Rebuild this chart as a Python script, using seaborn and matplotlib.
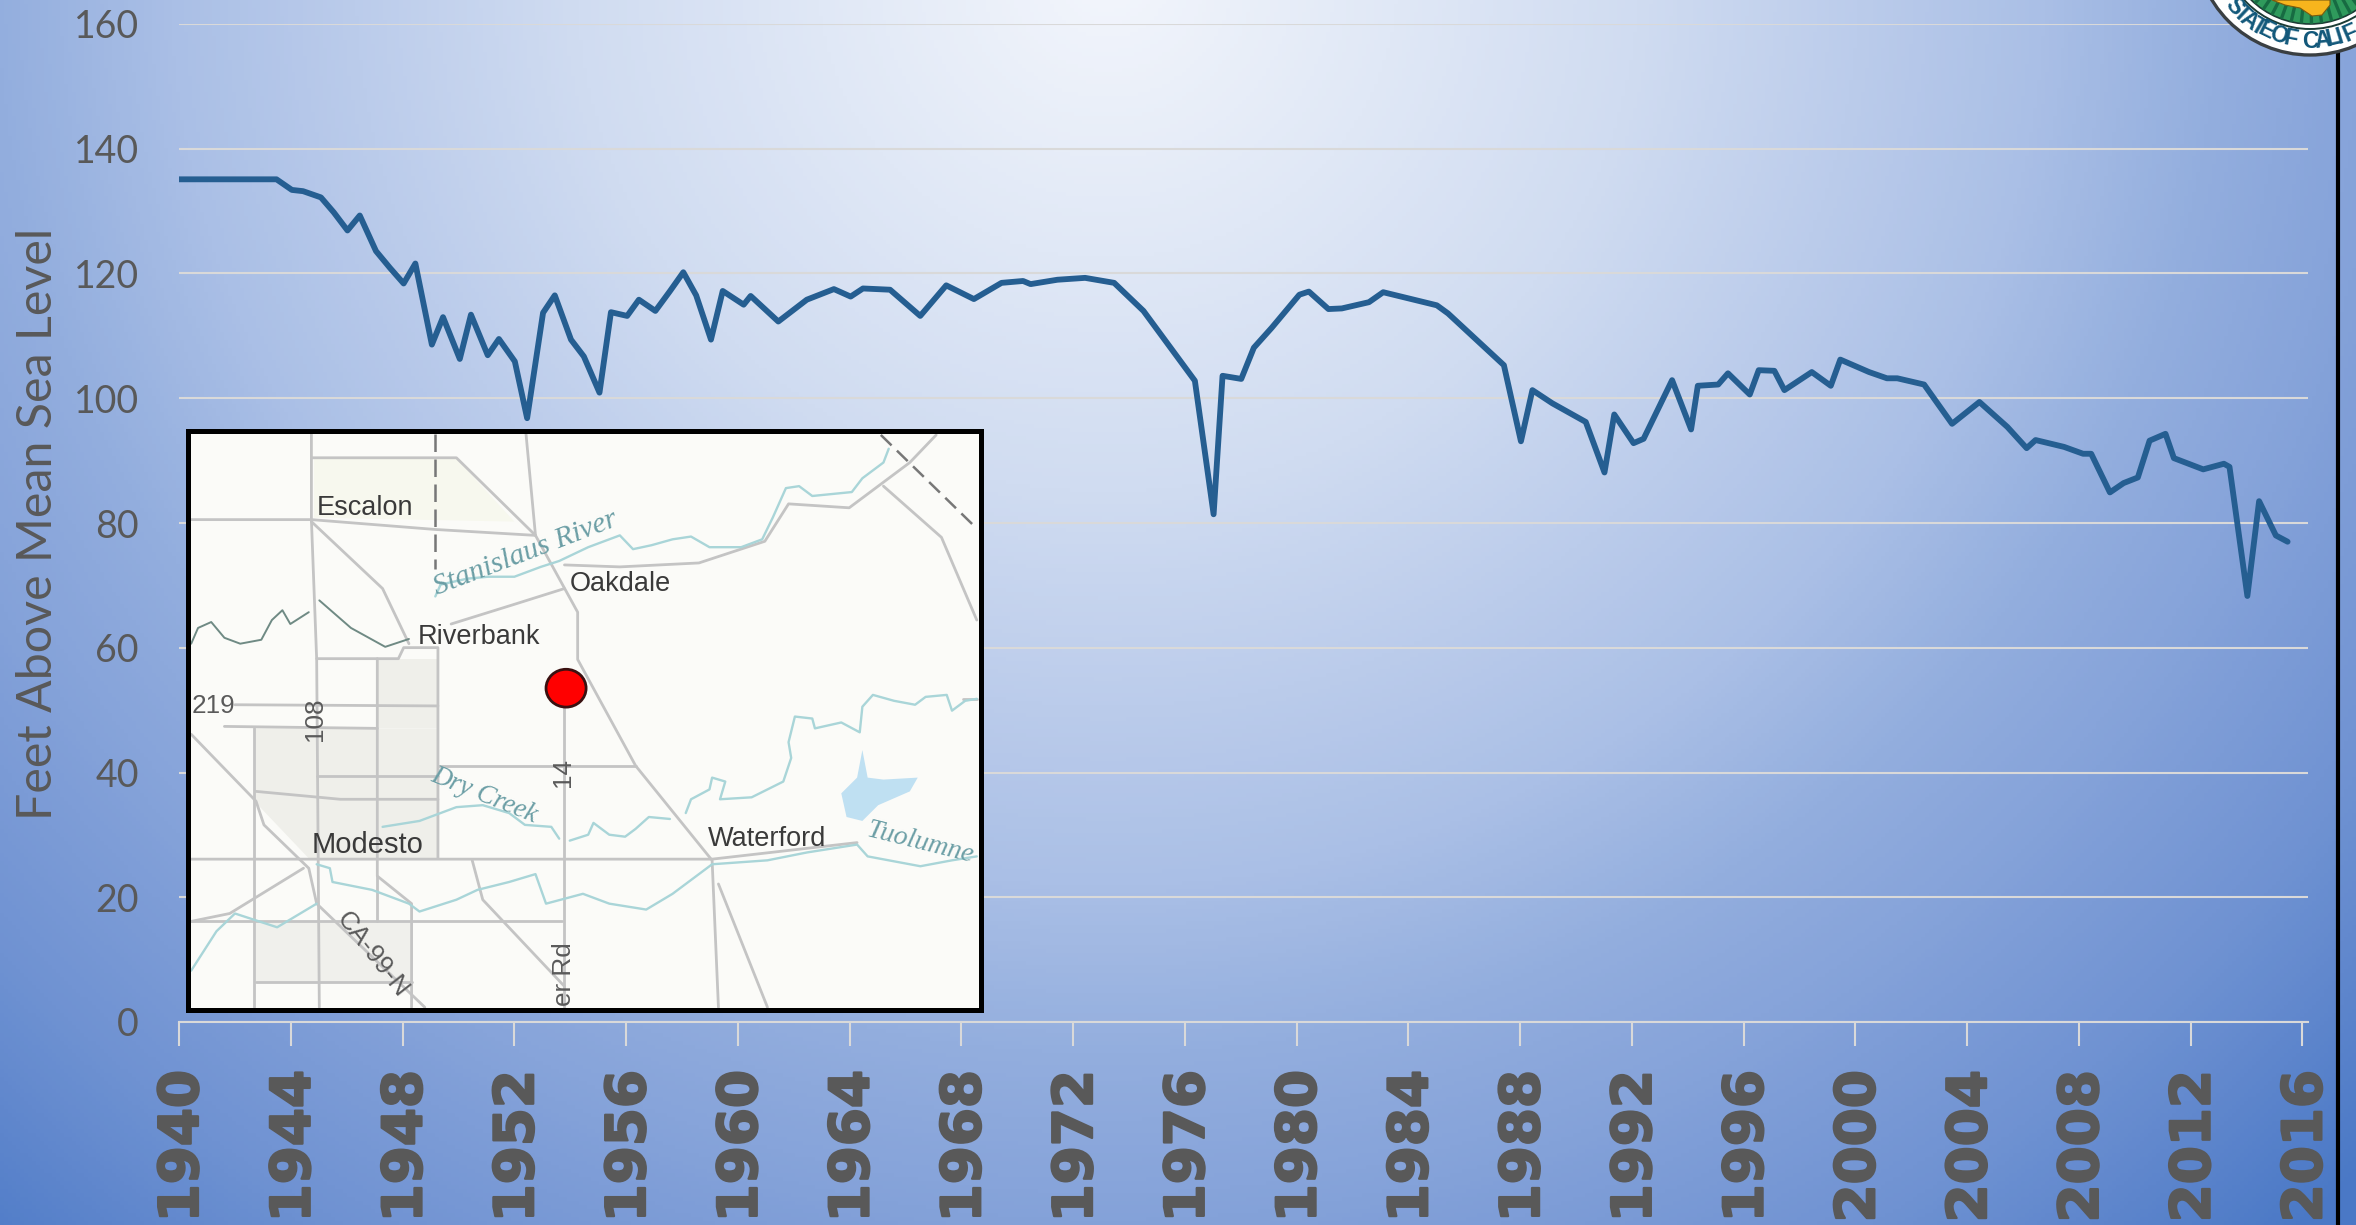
#!/usr/bin/env python3
# groundwater hydrograph, with locator map inset and seal
import numpy as np
import pandas as pd
import matplotlib
matplotlib.use("Agg")
import matplotlib.pyplot as plt
import matplotlib.patheffects as pe
from matplotlib.colors import LinearSegmentedColormap
from matplotlib.patches import Circle, Ellipse, Polygon
from matplotlib.transforms import ScaledTranslation
import seaborn as sns

# 1) Data
years = [1940, 1943.49, 1944.04, 1944.44, 1945.08, 1945.54, 1946.03, 1946.47, 1947.05, 1947.55,
         1948.04, 1948.46, 1949.05, 1949.45, 1950.05, 1950.45, 1951.05, 1951.45, 1952.02, 1952.46,
         1953.03, 1953.45, 1954.03, 1954.49, 1955.05, 1955.46, 1956.04, 1956.46, 1957.05, 1957.56,
         1958.05, 1958.51, 1959.04, 1959.46, 1960.21, 1960.46, 1961.45, 1962.47, 1963.44, 1964.04,
         1964.48, 1965.45, 1966.53, 1967.46, 1968.45, 1969.44, 1970.21, 1970.48, 1971.44, 1972.43,
         1973.47, 1974.52, 1976.36, 1977.03, 1977.35, 1978.02, 1978.47, 1979.11, 1980.1, 1980.44,
         1981.14, 1981.62, 1982.59, 1983.1, 1985.02, 1985.42, 1987.42, 1988.03, 1988.44, 1989.15,
         1990.35, 1991.02, 1991.37, 1992.06, 1992.42, 1993.44, 1994.12, 1994.36, 1995.09, 1995.44,
         1996.22, 1996.54, 1997.1, 1997.46, 1998.44, 1999.12, 1999.46, 2000.49, 2001.13, 2001.5,
         2002.46, 2003.46, 2004.44, 2005.44, 2006.13, 2006.45, 2007.47, 2008.15, 2008.44, 2009.11,
         2009.6, 2010.11, 2010.53, 2011.1, 2011.4, 2012.45, 2013.19, 2013.39, 2014.03, 2014.45,
         2015.05, 2015.47]
levels = [135.1, 135.1, 133.4, 133.2, 132.2, 129.8, 126.9, 129.3, 123.6, 120.9,
          118.4, 121.6, 108.6, 113.0, 106.3, 113.4, 106.9, 109.5, 105.9, 96.8,
          113.7, 116.5, 109.4, 106.7, 100.9, 113.8, 113.2, 115.8, 114.0, 117.1,
          120.2, 116.5, 109.4, 117.2, 115.0, 116.4, 112.3, 115.8, 117.5, 116.3,
          117.6, 117.4, 113.2, 118.1, 115.9, 118.5, 118.8, 118.3, 119.0, 119.3,
          118.5, 114.0, 102.8, 81.4, 103.6, 103.1, 108.1, 111.3, 116.6, 117.1,
          114.3, 114.4, 115.4, 117.0, 114.9, 113.6, 105.3, 93.1, 101.3, 99.2,
          96.2, 88.1, 97.4, 92.8, 93.5, 102.9, 95.0, 102.0, 102.2, 104.0,
          100.6, 104.5, 104.4, 101.3, 104.2, 102.0, 106.2, 104.2, 103.2, 103.2,
          102.2, 95.9, 99.4, 95.4, 92.0, 93.3, 92.2, 91.1, 91.1, 84.9,
          86.4, 87.3, 93.2, 94.3, 90.4, 88.6, 89.5, 89.0, 68.3, 83.5,
          78.0, 77.0]
x_ticks = list(range(1940, 2017, 4))
y_ticks = list(range(0, 161, 20))
y_label = "Feet Above Mean Sea Level"

# Map inset, coordinates are in the inset's own frame
roads = [
    [(37, 275), (265, 275), (500, 300), (690, 315)],
    [(265, 57), (265, 275), (275, 630), (280, 1513)],
    [(265, 118), (540, 118), (690, 315), (770, 510), (770, 630), (880, 900), (1025, 1140), (1037, 1513)],
    [(672, 57), (690, 315)],
    [(265, 280), (400, 450), (450, 590)],
    [(745, 390), (850, 395), (1000, 385), (1125, 330), (1170, 235), (1285, 245), (1400, 130), (1450, 60)],
    [(530, 540), (650, 490), (745, 450)],
    [(275, 628), (430, 628), (440, 600), (505, 600), (505, 1135)],
    [(390, 628), (390, 1180), (455, 1250), (455, 1513)],
    [(120, 745), (505, 748)],
    [(100, 800), (390, 805)],
    [(157, 805), (157, 1513)],
    [(37, 820), (160, 990), (175, 1050), (260, 1160), (275, 1250), (480, 1513)],
    [(160, 965), (320, 985), (505, 985)],
    [(275, 925), (505, 925)],
    [(505, 900), (880, 900)],
    [(37, 1137), (1025, 1137), (1300, 1095)],
    [(37, 1295), (740, 1295)],
    [(745, 750), (745, 1513)],
    [(570, 1140), (590, 1240), (745, 1460)],
    [(390, 1180), (390, 1295)],
    [(250, 1160), (110, 1275), (37, 1295)],
    [(160, 1450), (455, 1450)],
    [(1350, 190), (1460, 320), (1527, 530)],
    [(1037, 1200), (1130, 1513)],
    [(1500, 730), (1527, 730)],
]
rivers = [
    [(500, 470), (510, 440), (560, 425), (600, 420), (650, 420), (700, 395), (735, 380), (790, 345),
     (850, 315), (875, 350), (910, 340), (950, 325), (985, 318), (1020, 345), (1080, 345), (1120, 325),
     (1140, 270), (1165, 195), (1190, 190), (1215, 215), (1290, 205), (1310, 170), (1350, 130), (1360, 95)],
    [(975, 1020), (985, 985), (1020, 960), (1025, 930), (1050, 940), (1040, 985), (1100, 980), (1160, 940),
     (1175, 880), (1170, 840), (1182, 775), (1215, 780), (1220, 805), (1270, 790), (1305, 815), (1310, 750),
     (1330, 720), (1370, 735), (1410, 745), (1430, 725), (1470, 720), (1480, 760), (1505, 735), (1527, 730)],
    [(755, 1090), (790, 1075), (800, 1045), (830, 1075), (860, 1080), (880, 1060), (905, 1030), (945, 1035)],
    [(400, 1055), (470, 1040), (540, 1005), (590, 1000), (640, 1020), (670, 1050), (720, 1055), (735, 1085)],
    [(275, 1150), (300, 1160), (305, 1195), (380, 1215), (450, 1250), (470, 1270), (540, 1240), (580, 1215),
     (640, 1195), (690, 1175), (710, 1250), (780, 1225), (830, 1250), (900, 1265), (950, 1225), (1025, 1150),
     (1130, 1140), (1205, 1120), (1300, 1100), (1320, 1130), (1420, 1155), (1480, 1140), (1527, 1130)],
    [(275, 1250), (200, 1310), (120, 1275), (85, 1320), (37, 1420)],
]
creek = [(37, 590), (50, 550), (75, 535), (100, 575), (130, 590), (170, 580), (190, 530), (210, 505),
         (225, 540), (260, 510)]
creek2 = [(280, 480), (340, 550), (405, 598), (450, 578)]
county_line = [(1345, 60), (1525, 295)]
state_line = [(500, 57), (500, 400)]
lake = [(1310, 860), (1320, 930), (1350, 935), (1415, 930), (1400, 965), (1340, 1000), (1310, 1040),
        (1280, 1030), (1270, 970), (1300, 930)]
map_labels = [
    ("Escalon", 275, 245, 19.5),
    ("Oakdale", 755, 438, 19.5),
    ("Riverbank", 467, 573, 19.5),
    ("Modesto", 265, 1100, 21),
    ("Waterford", 1017, 1087, 19.5),
]
road_labels = [
    ("219", 38, 748, 0),
    ("108", 272, 782, 90),
    ("14", 742, 918, 90),
    ("er Rd", 745, 1430, 90),
    ("CA-99-N", 380, 1380, -52),
]
river_labels = [
    ("Stanislaus River", 672, 360, 21, 21.5),
    ("Dry Creek", 592, 975, -22, 19.5),
    ("Tuolumne", 1420, 1095, -14, 20),
]
seal_letters = ["S", "T", "A", "T", "E", "O", "F", "C", "A", "L", "I", "F"]
seal_angles = [139, 133, 127, 121, 116, 108, 101, 90, 82.6, 77, 73, 66.7]

GRAY = "#595959"
GRID = "#d9d9d9"
W, H = 2356, 1225

sns.set_theme(style="white")
plt.rcParams["font.family"] = ["Lato", "DejaVu Sans"]
fig = plt.figure(figsize=(W / 100, H / 100), dpi=100)

# 2) Background gradient
bg = fig.add_axes([0, 0, 1, 1], zorder=0)
gx, gy = np.meshgrid(np.linspace(0, 1, 590), np.linspace(0, 1, 306))
rad = np.sqrt(((gx - 0.47) / 0.75) ** 2 + ((gy + 0.02) / 1.4) ** 2)
cmap = LinearSegmentedColormap.from_list(
    "bg", [(0, "#f3f6fc"), (0.3, "#d0dcf1"), (0.53, "#aabfe6"), (0.63, "#93aede"),
           (0.71, "#87a4da"), (0.85, "#6f92d2"), (1, "#4a78c6")])
bg.imshow(np.clip(rad, 0, 1), cmap=cmap, vmin=0, vmax=1, extent=(0, W, H, 0), aspect="auto")
bg.set_xlim(0, W)
bg.set_ylim(H, 0)
bg.axis("off")

# 3) Hydrograph
ax = fig.add_axes([179 / W, 1 - 1022 / H, (2308 - 179) / W, (1022 - 24) / H], zorder=1)
ax.patch.set_alpha(0)
df = pd.DataFrame({"year": years, "level": levels})
sns.lineplot(data=df, x="year", y="level", ax=ax, color="#255e91", linewidth=4.2,
             estimator=None, sort=False, zorder=3)
ax.set_xlim(1940, 2016.2)
ax.set_ylim(0, 160)
ax.set_xticks(x_ticks)
ax.set_yticks(y_ticks)
ax.yaxis.grid(True, color=GRID, linewidth=1.5)
ax.xaxis.grid(False)
ax.set_axisbelow(True)
for side in ["top", "right", "left"]:
    ax.spines[side].set_visible(False)
ax.spines["bottom"].set_color(GRID)
ax.spines["bottom"].set_linewidth(1.5)
ax.tick_params(axis="x", bottom=True, direction="out", length=17, width=1.5, color=GRID, pad=17.5)
ax.tick_params(axis="y", left=False, pad=23)
ax.set_xticklabels([str(v) for v in x_ticks], rotation=90, family="DejaVu Sans", weight="bold",
                   fontsize=39.4, color=GRAY,
                   path_effects=[pe.withStroke(linewidth=1.6, foreground=GRAY)])
nudge = ScaledTranslation(4 / 100, 0, fig.dpi_scale_trans)
for tick_label in ax.get_xticklabels():
    tick_label.set_transform(tick_label.get_transform() + nudge)
ax.set_yticklabels([str(v) for v in y_ticks], fontsize=27, color=GRAY)
ax.set_xlabel("")
ax.set_ylabel("")
fig.text(38 / W, 1 - 524 / H, y_label, rotation=90, ha="center", va="center", fontsize=34.8, color=GRAY)

# 4) Map inset
inset = fig.add_axes([187.5 / W, 1 - 1010 / H, (981 - 187.5) / W, (1010 - 431) / H], zorder=2)
inset.set_xlim(30, 1535)
inset.set_ylim(1520, 50)
inset.set_facecolor("#fbfbf8")
inset.set_xticks([])
inset.set_yticks([])
for spine in inset.spines.values():
    spine.set_color("black")
    spine.set_linewidth(3.6)
# built-up area tint
inset.add_patch(Polygon([(157, 805), (505, 805), (505, 1135), (260, 1135), (157, 990)], color="#efefea", lw=0))
inset.add_patch(Polygon([(390, 628), (505, 628), (505, 805), (390, 805)], color="#efefea", lw=0))
inset.add_patch(Polygon([(160, 1295), (455, 1295), (455, 1450), (160, 1450)], color="#f0f0ec", lw=0))
inset.add_patch(Polygon([(270, 120), (540, 120), (650, 280), (270, 270)], color="#f7f8ee", lw=0))
inset.add_patch(Polygon(lake, closed=True, color="#bfe0f2", lw=0, joinstyle="round"))
for line in roads:
    xs, ys = zip(*line)
    inset.plot(xs, ys, color="#c4c4c4", lw=2, solid_joinstyle="round")
for line in rivers:
    xs, ys = zip(*line)
    inset.plot(xs, ys, color="#a9d5d8", lw=1.7)
for line in [creek, creek2]:
    xs, ys = zip(*line)
    inset.plot(xs, ys, color="#6f8a84", lw=1.4)
xs, ys = zip(*county_line)
inset.plot(xs, ys, color="#777777", lw=1.8, ls=(0, (6, 3)))
xs, ys = zip(*state_line)
inset.plot(xs, ys, color="#777777", lw=1.8, ls=(0, (7, 3)))
for label, lx, ly, size in map_labels:
    inset.text(lx, ly, label, fontsize=size, family="Liberation Sans", color="#3a3a3a", va="center")
for label, lx, ly, rot in road_labels:
    inset.text(lx, ly, label, fontsize=18.8, family="Liberation Sans", color="#5a5a5a", rotation=rot,
               ha="left" if rot == 0 else "center", va="center")
for label, lx, ly, rot, size in river_labels:
    inset.text(lx, ly, label, fontsize=size, family="Liberation Serif", style="italic", color="#6b9ea5",
               rotation=rot, ha="center", va="center", clip_on=True)
inset.add_patch(Ellipse((748, 703), 76, 96, facecolor="#ff0000", edgecolor="#3a1010", lw=2, zorder=5))

# 5) Seal and the black rule in full figure pixels
over = fig.add_axes([0, 0, 1, 1], zorder=3)
over.set_xlim(0, W)
over.set_ylim(H, 0)
over.axis("off")
over.patch.set_alpha(0)
over.plot([2337.7, 2337.7], [40, H], color="black", lw=3, solid_capstyle="butt", zorder=1)
cx, cy, radius = 2310, -60, 115
over.add_patch(Circle((cx, cy), radius, facecolor="white", edgecolor="#3a3f42", lw=2.4, zorder=2))
over.add_patch(Circle((cx, cy), radius - 26, facecolor="white", edgecolor="#1d3c35", lw=1.4, zorder=2))
green = Circle((cx, cy), radius - 31, facecolor="#2f9a5c", edgecolor="#1d3c35", lw=1.2, zorder=2)
over.add_patch(green)
for ang in np.radians(np.arange(40, 145, 7)):
    stripe, = over.plot([cx + 60 * np.cos(ang), cx + 90 * np.cos(ang)],
                        [cy + 60 * np.sin(ang), cy + 90 * np.sin(ang)], color="#176b42", lw=2.4, zorder=3)
    stripe.set_clip_path(green)
over.add_patch(Polygon([(2272, 0), (2285, 5), (2300, 8), (2312, 16), (2322, 15), (2330, 5), (2330, 0)],
                       facecolor="#f7b51d", edgecolor="#7a5a10", lw=0.8, zorder=4))
for letter, deg in zip(seal_letters, seal_angles):
    ang = np.radians(deg)
    over.text(cx + (radius - 14) * np.cos(ang), cy + (radius - 14) * np.sin(ang), letter, fontsize=16.5,
              weight="bold", family="Liberation Sans", color="#12587a", rotation=90 - deg,
              ha="center", va="center", clip_on=True, zorder=5)

fig.savefig("out.png", dpi=100)
